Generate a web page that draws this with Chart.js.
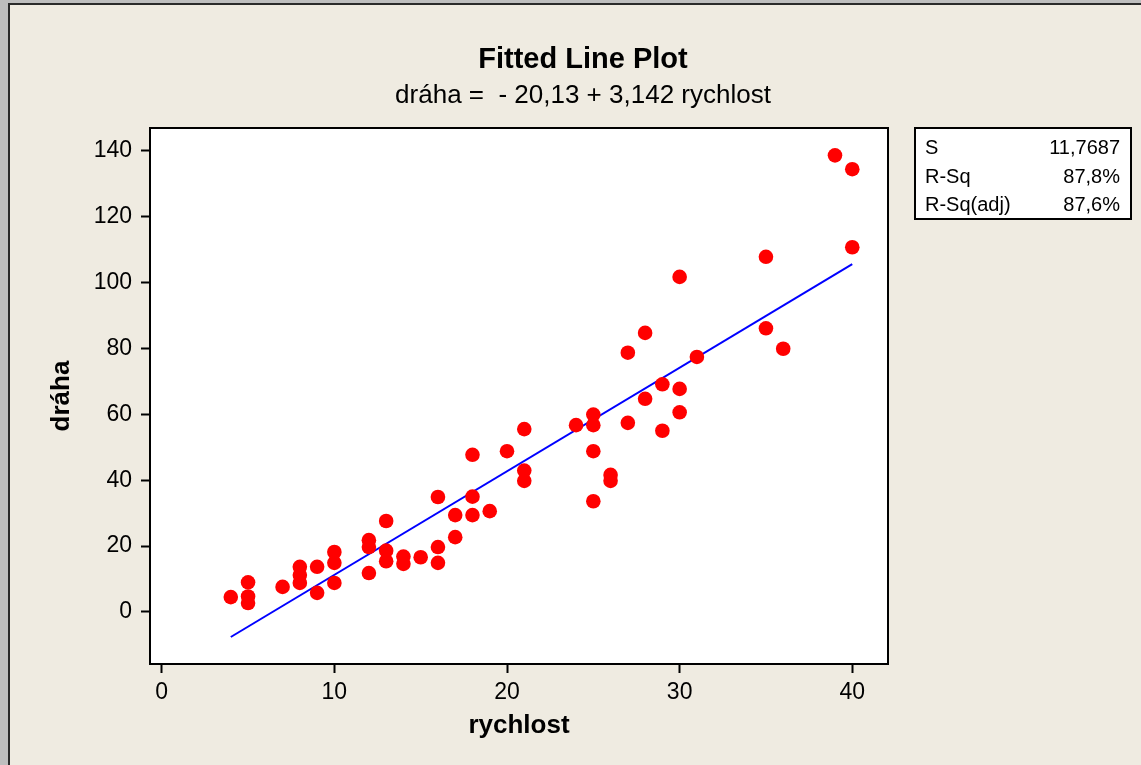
<!DOCTYPE html>
<html>
<head>
<meta charset="utf-8">
<script src="https://cdn.jsdelivr.net/npm/chart.js@4"></script>
<style>
html,body{margin:0;padding:0;background:#EFEBE1;overflow:hidden}
#c{position:absolute;left:0;top:0}
</style>
</head>
<body>
<canvas id="c" width="1141" height="765"></canvas>
<script>
// ---- data ----
const speed = [4,5,5,5,7,8,8,8,9,9,10,10,10,12,12,12,13,13,13,14,14,15,16,16,16,17,17,18,18,18,19,20,21,21,21,24,25,25,25,25,26,26,27,27,28,28,29,29,30,30,30,31,35,35,36,39,40,40];
const dist  = [4.5,9,4.7,2.7,7.6,13.7,11.2,8.8,13.7,5.8,18.2,14.9,8.8,21.8,19.7,11.8,27.6,18.6,15.4,16.8,14.6,16.6,34.9,19.7,14.9,29.4,22.7,47.7,35,29.4,30.6,48.8,55.5,42.9,39.8,56.7,59.9,56.7,48.8,33.6,41.6,39.8,78.7,57.4,84.7,64.7,69.1,55,101.7,67.7,60.6,77.4,107.8,86.1,79.9,138.6,134.4,110.7];
const fitX = [4, 40];
const fitY = [-7.6, 105.6];
const xTicks = [0,10,20,30,40];
const yTicks = [0,20,40,60,80,100,120,140];
const titleText = 'Fitted Line Plot';
const subtitleText = 'dráha =  - 20,13 + 3,142 rychlost';
const xTitle = 'rychlost';
const yTitle = 'dráha';
const statLabels = ['S','R-Sq','R-Sq(adj)'];
const statValues = ['11,7687','87,8%','87,6%'];

const FONT = "'Liberation Sans', Arial, sans-serif";

const decor = {
  id:'decor',
  beforeDraw(chart){
    const ctx = chart.ctx, a = chart.chartArea;
    ctx.save();
    ctx.fillStyle = '#EFEBE1';
    ctx.fillRect(0,0,chart.width,chart.height);
    // window frame
    ctx.fillStyle = '#BEBEBE';
    ctx.fillRect(0,0,chart.width,3);
    ctx.fillRect(0,0,8,chart.height);
    ctx.fillStyle = '#2a2a2a';
    ctx.fillRect(8,3,chart.width-8,2);
    ctx.fillRect(8,3,2,chart.height-3);
    ctx.fillStyle = '#FFFFFF';
    ctx.fillRect(a.left,a.top,a.right-a.left,a.bottom-a.top);
    ctx.restore();
  },
  afterDraw(chart){
    const ctx = chart.ctx, a = chart.chartArea;
    ctx.save();
    ctx.strokeStyle = '#000';
    ctx.lineWidth = 2;
    ctx.strokeRect(a.left, a.top, a.right-a.left, a.bottom-a.top);
    ctx.fillStyle = '#000';
    ctx.textAlign = 'center';
    ctx.textBaseline = 'middle';
    ctx.font = 'bold 29px ' + FONT;
    ctx.fillText(titleText, 583, 60);
    ctx.font = '26px ' + FONT;
    ctx.fillText(subtitleText, 583, 96);
    ctx.font = 'bold 26px ' + FONT;
    ctx.fillText(xTitle, (a.left+a.right)/2, 726);
    ctx.save();
    ctx.translate(62, (a.top+a.bottom)/2);
    ctx.rotate(-Math.PI/2);
    ctx.fillText(yTitle, 0, 0);
    ctx.restore();
    // stats box
    const bx = 915, by = 128, bw = 216, bh = 91;
    ctx.fillStyle = '#FFFFFF';
    ctx.fillRect(bx,by,bw,bh);
    ctx.strokeStyle = '#000';
    ctx.lineWidth = 2;
    ctx.strokeRect(bx,by,bw,bh);
    ctx.fillStyle = '#000';
    ctx.font = '20px ' + FONT;
    const rows = [148, 177, 205];
    for (let i=0;i<statLabels.length;i++){
      ctx.textAlign = 'left';
      ctx.fillText(statLabels[i], bx+10, rows[i]);
      ctx.textAlign = 'right';
      ctx.fillText(statValues[i], bx+bw-11, rows[i]);
    }
    ctx.restore();
  }
};

const tickFont = {family: FONT, size: 23};

new Chart(document.getElementById('c'), {
  type: 'scatter',
  data: {
    datasets: [
      {
        label: 'dráha',
        data: speed.map((x,i)=>({x:x, y:dist[i]})),
        backgroundColor: '#FF0000',
        borderColor: '#FF0000',
        borderWidth: 0,
        pointRadius: 7.3,
        order: 1
      },
      {
        type: 'line',
        label: 'fit',
        data: fitX.map((x,i)=>({x:x, y:fitY[i]})),
        borderColor: '#0000FF',
        borderWidth: 2,
        pointRadius: 0,
        fill: false,
        tension: 0,
        order: 2
      }
    ]
  },
  options: {
    responsive: false,
    animation: false,
    devicePixelRatio: 1,
    layout: {padding: {left: 0, top: 128, right: 253, bottom: 0}},
    plugins: {legend: {display: false}, tooltip: {enabled: false}, title: {display: false}},
    scales: {
      x: {
        type: 'linear', min: -0.68, max: 42.07,
        afterBuildTicks: s => { s.ticks = xTicks.map(v => ({value: v})); },
        afterFit: s => { s.height = 101; },
        grid: {drawOnChartArea: false, drawTicks: true, tickLength: 9, tickWidth: 2, tickColor: '#000'},
        border: {display: true, color: '#000', width: 2},
        ticks: {color: '#000', font: tickFont, padding: 6, maxRotation: 0, autoSkip: false}
      },
      y: {
        type: 'linear', min: -15.8, max: 146.9,
        afterBuildTicks: s => { s.ticks = yTicks.map(v => ({value: v})); },
        afterFit: s => { s.width = 150; },
        grid: {drawOnChartArea: false, drawTicks: true, tickLength: 9, tickWidth: 2, tickColor: '#000'},
        border: {display: true, color: '#000', width: 2},
        ticks: {color: '#000', font: tickFont, padding: 9, autoSkip: false}
      }
    }
  },
  plugins: [decor]
});
</script>
</body>
</html>
